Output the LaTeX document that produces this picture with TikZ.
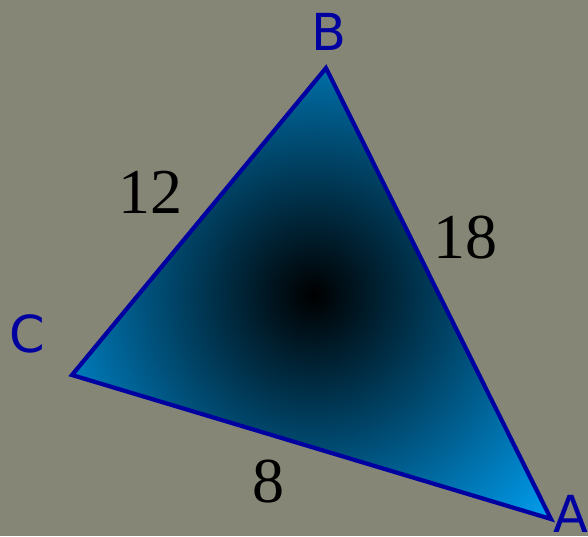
\documentclass[tikz,border=0pt]{standalone}
\usepackage{fontspec}
\setmainfont{Liberation Serif}
\newfontfamily\labfont{DejaVu Sans}
\definecolor{bgc}{RGB}{134,134,119}
\definecolor{edgec}{RGB}{0,0,160}
\definecolor{outerc}{RGB}{0,168,255}
\tikzset{
  vlabel/.style={text=edgec, font=\labfont\fontsize{51}{51}\selectfont, inner sep=0pt},
  slabel/.style={text=black, font=\fontsize{64}{64}\selectfont, inner sep=0pt},
}
\begin{document}
\begin{tikzpicture}[x=1pt,y=-1pt]
\fill[bgc] (0,0) rectangle (588,536);
\useasboundingbox (0,0) rectangle (588,536);
\coordinate (B) at (326,68);
\coordinate (C) at (72,375);
\coordinate (A) at (551,519);
\begin{scope}
  \clip (A) -- (B) -- (C) -- cycle;
  \shade[inner color=black, outer color=outerc] (313,295) circle (345);
\end{scope}
\draw[edgec, line width=4.2pt, line join=miter] (A) -- (B) -- (C) -- cycle;
\node[vlabel] (lB) at (329,32) {B};
\node[vlabel] (lC) at (27,334) {C};
\node[vlabel] (lA) at (571,514) {A};
\node[slabel] (s12) at (150,192) {12};
\node[slabel] (s18) at (465,238) {18};
\node[slabel] (s8) at (268,482) {8};
\end{tikzpicture}
\end{document}
